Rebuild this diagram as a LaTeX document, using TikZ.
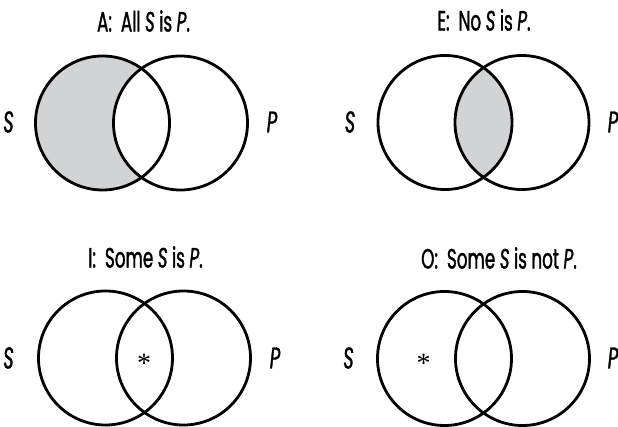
\documentclass[tikz,border=0pt]{standalone}
\usepackage{fontspec}
\setmainfont[FakeStretch=0.6,FakeBold=1.2]{Poppins}
\newfontfamily\starfont{Liberation Serif}
\definecolor{vennfill}{HTML}{D1D3D4}
\begin{document}
\begin{tikzpicture}[x=1pt,y=-1pt,
  ring/.style={draw=black,line width=2.8pt},
  ttl/.style={font=\fontsize{28}{30}\selectfont,inner sep=0pt},
  lbl/.style={font=\fontsize{30}{32}\selectfont\itshape,inner sep=0pt},
  star/.style={font=\fontsize{28}{30}\selectfont\starfont,inner sep=0pt,anchor=base}]
\useasboundingbox (0,0) rectangle (618,427);
\def\R{67}
% A
\fill[vennfill] (102.5,123) circle (\R);
\fill[white] (180.5,123) circle (\R);
\draw[ring] (102.5,123) circle (\R);
\draw[ring] (180.5,123) circle (\R);
\node[ttl] (ta) at (143.5,21) {A:\ \ All \textit{S} is \textit{P}.};
\node[lbl] (sa) at (8.5,122) {S};
\node[lbl] (pa) at (272,122) {P};
% E
\begin{scope}
\clip (445,122.5) circle (\R);
\fill[vennfill] (522,122.5) circle (\R);
\end{scope}
\draw[ring] (445,122.5) circle (\R);
\draw[ring] (522,122.5) circle (\R);
\node[ttl] (te) at (484,20) {E:\ \ No \textit{S} is \textit{P}.};
\node[lbl] (se) at (350,122) {S};
\node[lbl] (pe) at (613,122) {P};
% I
\draw[ring] (105.5,358) circle (\R);
\draw[ring] (183.5,358) circle (\R);
\node[ttl] (ti) at (145.5,257) {I:\ \ Some \textit{S} is \textit{P}.};
\node[lbl] (si) at (8.5,358) {S};
\node[lbl] (pi) at (275,358) {P};
\node[star] (xi) at (144,372) {*};
% O
\draw[ring] (444.5,358.5) circle (\R);
\draw[ring] (522.5,358.5) circle (\R);
\node[ttl] (to) at (499,258) {O:\ \ Some \textit{S} is not \textit{P}.};
\node[lbl] (so) at (348.5,358) {S};
\node[lbl] (po) at (613,358) {P};
\node[star] (xo) at (423.5,372) {*};
\end{tikzpicture}
\end{document}
